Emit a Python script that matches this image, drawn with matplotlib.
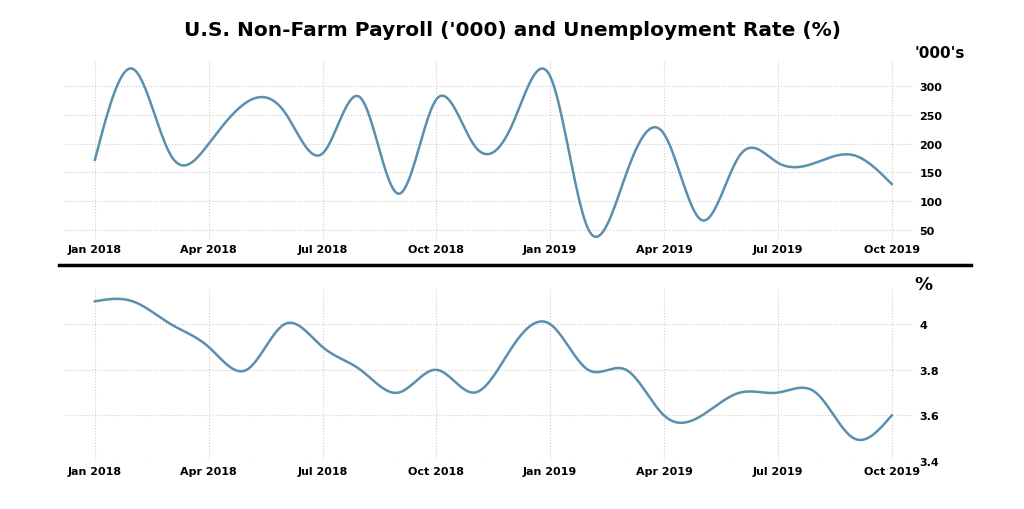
import numpy as np
import matplotlib
matplotlib.use("Agg")
import matplotlib.pyplot as plt

months = ["Jan 2018","Feb 2018","Mar 2018","Apr 2018","May 2018","Jun 2018","Jul 2018","Aug 2018",
          "Sep 2018","Oct 2018","Nov 2018","Dec 2018","Jan 2019","Feb 2019","Mar 2019","Apr 2019",
          "May 2019","Jun 2019","Jul 2019","Aug 2019","Sep 2019","Oct 2019"]
payroll = [172, 330, 180, 200, 272, 255, 183, 280, 113, 277, 197, 233, 317, 52, 147, 217, 67, 180, 167, 167, 180, 130]
unemp = [4.1, 4.1, 4.0, 3.9, 3.8, 4.0, 3.9, 3.8, 3.7, 3.8, 3.7, 3.9, 4.0, 3.8, 3.8, 3.6, 3.6, 3.7, 3.7, 3.7, 3.5, 3.6]
tick_idx = [0, 3, 6, 9, 12, 15, 18, 21]
tick_labels = [months[i] for i in tick_idx]

def spline(y, n=20):
    y = np.asarray(y, float); N = len(y)
    A = np.zeros((N, N)); b = np.zeros(N)
    A[0, 0] = A[-1, -1] = 1
    for i in range(1, N - 1):
        A[i, i-1], A[i, i], A[i, i+1] = 1, 4, 1
        b[i] = 6 * (y[i+1] - 2*y[i] + y[i-1])
    M = np.linalg.solve(A, b)
    xs, ys = [], []
    for i in range(N - 1):
        t = np.linspace(0, 1, n, endpoint=False)
        v = ((1-t)*y[i] + t*y[i+1] + ((1-t)**3-(1-t))*M[i]/6 + (t**3-t)*M[i+1]/6)
        xs.extend(i + t); ys.extend(v)
    xs.append(N-1); ys.append(y[-1])
    return np.array(xs), np.array(ys)

color = "#5b8fae"
plt.rcParams["font.family"] = "DejaVu Sans"
fig = plt.figure(figsize=(10.24, 5.10), dpi=100)
fig.text(0.5, 0.94, "U.S. Non-Farm Payroll ('000) and Unemployment Rate (%)",
         ha="center", va="center", fontsize=14.5, fontweight="bold")

def style(ax):
    ax.yaxis.tick_right()
    for s in ax.spines.values():
        s.set_visible(False)
    ax.grid(True, color="#cccccc", linestyle=":", linewidth=0.8)
    ax.tick_params(length=0, labelsize=8)
    for lab in ax.get_xticklabels() + ax.get_yticklabels():
        lab.set_fontweight("bold")
    ax.set_xlim(-0.8, 21.6)
    ax.set_xticks(tick_idx)
    ax.set_xticklabels(tick_labels, fontweight="bold")

ax1 = fig.add_axes([0.063, 0.53, 0.83, 0.35])
xs, ys = spline(payroll)
ax1.plot(xs, ys, color=color, lw=1.8)
ax1.set_ylim(35, 345)
ax1.set_yticks([50, 100, 150, 200, 250, 300])
style(ax1)
ax1.text(1.0, 1.0, "'000's", transform=ax1.transAxes, fontsize=11, fontweight="bold", ha="left", va="bottom")

ax2 = fig.add_axes([0.063, 0.094, 0.83, 0.34])
xs, ys = spline(unemp)
ax2.plot(xs, ys, color=color, lw=1.8)
ax2.set_ylim(3.4, 4.16)
ax2.set_yticks([3.4, 3.6, 3.8, 4.0])
ax2.set_yticklabels(["3.4", "3.6", "3.8", "4"])
style(ax2)
ax2.text(1.0, 0.97, "%", transform=ax2.transAxes, fontsize=13, fontweight="bold", ha="left", va="bottom")

fig.add_artist(plt.Line2D([0.058, 0.948], [0.478, 0.478], color="black", lw=2.5, transform=fig.transFigure))
fig.savefig("out.png", dpi=100, facecolor="white")
